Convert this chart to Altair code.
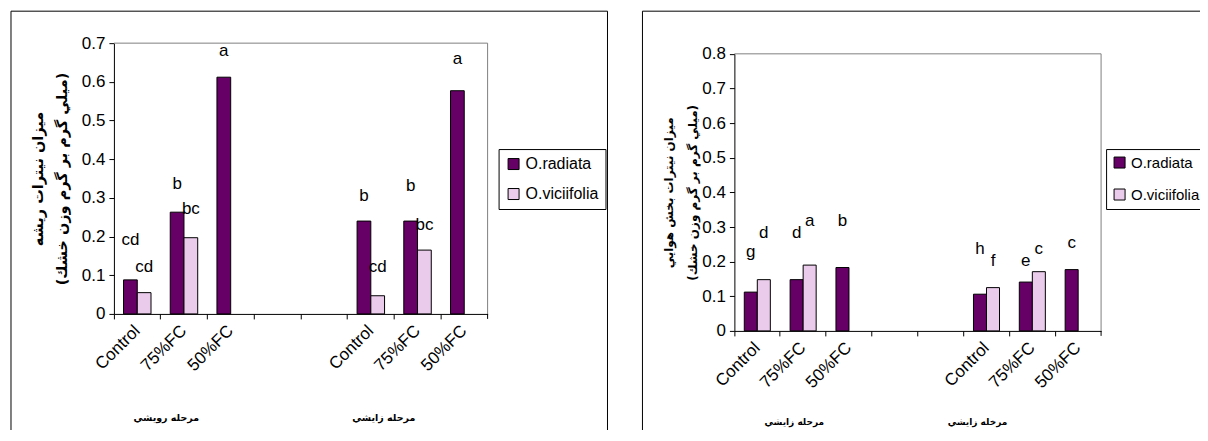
import altair as alt
import pandas as pd

# ---------------- data ----------------
treatments = ["Control", "75%FC", "50%FC"]
species = ["O.radiata", "O.viciifolia"]

root_stage_titles = ["مرحله رويشي", "مرحله زايشي"]
shoot_stage_titles = ["مرحله زايشي", "مرخله زايشي"]
root_axis_title = ["ميزان نيترات ريشه", "(ميلي گرم بر گرم وزن خشك)"]
shoot_axis_title = ["ميزان نيترات بخش هوايي", "(ميلي گرم بر گرم وزن خشك)"]

# root nitrate (mg/g DW): stage 1, stage 2
root_s1_radiata = [0.088, 0.263, 0.612]
root_s1_viciifolia = [0.055, 0.197, None]
root_s2_radiata = [0.240, 0.240, 0.577]
root_s2_viciifolia = [0.047, 0.165, None]
root_s1_radiata_letters = ["cd", "b", "a"]
root_s1_viciifolia_letters = ["cd", "bc", None]
root_s2_radiata_letters = ["b", "b", "a"]
root_s2_viciifolia_letters = ["cd", "bc", None]
root_s1_radiata_label_h = [0.19, 0.336, 0.68]
root_s1_viciifolia_label_h = [0.12, 0.27, None]
root_s2_radiata_label_h = [0.305, 0.33, 0.66]
root_s2_viciifolia_label_h = [0.12, 0.23, None]

# shoot nitrate (mg/g DW)
shoot_s1_radiata = [0.112, 0.148, 0.183]
shoot_s1_viciifolia = [0.148, 0.190, None]
shoot_s2_radiata = [0.106, 0.141, 0.177]
shoot_s2_viciifolia = [0.125, 0.171, None]
shoot_s1_radiata_letters = ["g", "d", "b"]
shoot_s1_viciifolia_letters = ["d", "a", None]
shoot_s2_radiata_letters = ["h", "e", "c"]
shoot_s2_viciifolia_letters = ["f", "c", None]
shoot_s1_radiata_label_h = [0.229, 0.282, 0.317]
shoot_s1_viciifolia_label_h = [0.282, 0.317, None]
shoot_s2_radiata_label_h = [0.236, 0.202, 0.254]
shoot_s2_viciifolia_label_h = [0.202, 0.236, None]

x_domain = [f"{t}_1" for t in treatments] + ["gap_1", "gap_2"] + [f"{t}_2" for t in treatments]
colors = ["#660066", "#EBCBEB"]
LATIN = "Liberation Sans"
ARABIC = "DejaVu Sans"


def build(series):
    rows = []
    for stage, sp, vals, lets, hs in series:
        for t, v, l, h in zip(treatments, vals, lets, hs):
            if v is None:
                continue
            rows.append({"key": f"{t}_{stage}", "species": sp, "value": v,
                         "letter": l, "label_h": h})
    return pd.DataFrame(rows)


root_df = build([
    (1, species[0], root_s1_radiata, root_s1_radiata_letters, root_s1_radiata_label_h),
    (1, species[1], root_s1_viciifolia, root_s1_viciifolia_letters, root_s1_viciifolia_label_h),
    (2, species[0], root_s2_radiata, root_s2_radiata_letters, root_s2_radiata_label_h),
    (2, species[1], root_s2_viciifolia, root_s2_viciifolia_letters, root_s2_viciifolia_label_h),
])
shoot_df = build([
    (1, species[0], shoot_s1_radiata, shoot_s1_radiata_letters, shoot_s1_radiata_label_h),
    (1, species[1], shoot_s1_viciifolia, shoot_s1_viciifolia_letters, shoot_s1_viciifolia_label_h),
    (2, species[0], shoot_s2_radiata, shoot_s2_radiata_letters, shoot_s2_radiata_label_h),
    (2, species[1], shoot_s2_viciifolia, shoot_s2_viciifolia_letters, shoot_s2_viciifolia_label_h),
])


def panel(df, width, height, top_off, ymax, axis_title, title_size, title_pad, bar_outer,
          frame, right_edge, legend_xy, legend_font, legend_pad, legend_row,
          stage_titles, stage_keys, stage_dx, stage_y, stage_size):
    x_scale = alt.Scale(domain=x_domain, paddingInner=0, paddingOuter=0)
    x_axis = alt.Axis(title=None, bandPosition=0,
                      labelAngle=-45, labelAlign="right", labelBaseline="middle",
                      labelExpr="indexof(datum.value, 'gap') == 0 ? '' : split(datum.value, '_')[0]",
                      labelFont=LATIN, labelFontSize=17, labelColor="black",
                      labelPadding=9, tickSize=5, tickColor="black",
                      domainColor="black", labelOverlap=False)
    ticks = [round(i * 0.1, 1) for i in range(int(round(ymax * 10)) + 1)]
    y_scale = alt.Scale(domain=[0, ymax], nice=False, range=[height, top_off])
    y_axis = alt.Axis(values=ticks, title=axis_title, grid=False, labelOverlap=False,
                      labelExpr="datum.value == 0 ? '0' : format(datum.value, '.1f')",
                      labelFont=LATIN, labelFontSize=17, labelColor="black", labelPadding=4,
                      tickSize=5, tickColor="black", domainColor="black",
                      titleFont=ARABIC, titleFontWeight="bold", titleFontSize=title_size,
                      titleColor="black", titleLineHeight=24, titlePadding=title_pad)
    xo_scale = alt.Scale(domain=species, paddingInner=0, paddingOuter=bar_outer)
    bars = alt.Chart(df).mark_bar(stroke="black", strokeWidth=1).encode(
        x=alt.X("key:N", scale=x_scale, axis=x_axis),
        xOffset=alt.XOffset("species:N", scale=xo_scale),
        y=alt.Y("value:Q", scale=y_scale, axis=y_axis),
        color=alt.Color("species:N", scale=alt.Scale(domain=species, range=colors),
                        legend=alt.Legend(title=None, orient="none",
                                          legendX=legend_xy[0], legendY=legend_xy[1],
                                          symbolType="square", symbolSize=121,
                                          symbolStrokeColor="black", symbolStrokeWidth=1,
                                          labelFont=LATIN, labelFontSize=legend_font,
                                          labelColor="black", labelOffset=4,
                                          strokeColor="black", fillColor="white",
                                          padding=legend_pad, rowPadding=legend_row)),
    )
    letters = alt.Chart(df).mark_text(font=LATIN, fontSize=17, color="black",
                                      baseline="middle").encode(
        x=alt.X("key:N", scale=x_scale, axis=x_axis),
        xOffset=alt.XOffset("species:N", scale=xo_scale),
        y=alt.Y("label_h:Q", scale=y_scale, axis=y_axis), text="letter:N")
    one = pd.DataFrame({"a": [0]})
    fx0, fx1, fy0, fy1 = frame

    def rule(color, **enc):
        return alt.Chart(one).mark_rule(color=color, strokeWidth=1).encode(**enc)

    layers = [
        rule("black", x=alt.value(fx0), x2=alt.value(fx1), y=alt.value(fy0)),
        rule("black", x=alt.value(fx0), y=alt.value(fy0), y2=alt.value(fy1)),
    ]
    if right_edge:
        layers.append(rule("black", x=alt.value(fx1), y=alt.value(fy0), y2=alt.value(fy1)))
    layers += [
        rule("#808080", x=alt.value(0), x2=alt.value(width), y=alt.value(top_off)),
        rule("#808080", x=alt.value(width), y=alt.value(top_off), y2=alt.value(height)),
        # closing tick at the right end of the category axis
        rule("black", x=alt.value(width), y=alt.value(height), y2=alt.value(height + 5)),
        bars, letters,
    ]
    for t, k, dx in zip(stage_titles, stage_keys, stage_dx):
        layers.append(
            alt.Chart(pd.DataFrame({"key": [k], "t": [t]})).mark_text(
                font=ARABIC, fontWeight="bold", fontSize=stage_size, color="black",
                baseline="middle", dx=dx).encode(
                x=alt.X("key:N", scale=x_scale, axis=x_axis),
                y=alt.value(stage_y), text="t:N"))
    return alt.layer(*layers).properties(width=width, height=height)


# frame: left, right, top, bottom (pixels relative to each plot origin)
left = panel(root_df, 374, 271, 0, 0.7, root_axis_title, 14.5, 12, 0.7,
             (-103, 494, -32, 418), True, (385, 106), 16, 7, 14,
             root_stage_titles, ["Control_1", "Control_2"], [29, 13], 375, 9.5)
right = panel(shoot_df, 367, 288, 10.7, 0.8, shoot_axis_title, 12, 2, 0.76,
              (-92, 507, -32, 418), False, (372, 106), 15, 6, 16,
              shoot_stage_titles, ["Control_1", "Control_2"], [37, -9], 379, 9)

# negative right/bottom padding crops the outer frame edges, as in the original
chart = alt.hconcat(left, right, spacing=33).resolve_scale(
    color="independent", x="independent", y="independent", xOffset="independent"
).resolve_legend(color="independent").properties(
    padding={"left": 2, "top": 2, "right": -42, "bottom": -32}
).configure_view(stroke=None)

chart.save("out.html", embed_options={"renderer": "svg", "actions": False})
